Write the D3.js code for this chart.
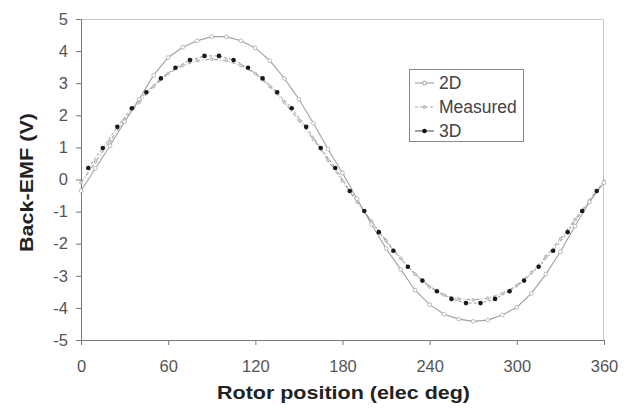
<!DOCTYPE html>
<html>
<head>
<meta charset="utf-8">
<script src="https://cdn.jsdelivr.net/npm/d3@7"></script>
<style>
  body { margin: 0; background: #fff; }
  svg { font-family: "Liberation Sans", Arial, sans-serif; }
</style>
</head>
<body>
<svg id="chart" width="625" height="411"></svg>
<script>
// data
const xTicks = [0, 60, 120, 180, 240, 300, 360];
const yTicks = [-5, -4, -3, -2, -1, 0, 1, 2, 3, 4, 5];

const pos2D = [0, 10, 20, 30, 40, 50, 60, 70, 80, 90, 100, 110, 120, 130, 140, 150, 160, 170, 180,
  190, 200, 210, 220, 230, 240, 250, 260, 270, 280, 290, 300, 310, 320, 330, 340, 350, 360];
const emf2D = [-0.35, 0.35, 1.05, 1.8, 2.5, 3.25, 3.8, 4.12, 4.32, 4.45, 4.45, 4.32, 4.1, 3.7, 3.15, 2.5, 1.75, 0.95, 0.2,
  -0.6, -1.4, -2.15, -2.8, -3.45, -3.9, -4.2, -4.35, -4.42, -4.38, -4.22, -3.98, -3.55, -2.95, -2.25, -1.45, -0.7, -0.1];

const posMeas = [0, 10, 20, 30, 40, 50, 60, 70, 80, 90, 100, 110, 120, 130, 140, 150, 160, 170, 180,
  190, 200, 210, 220, 230, 240, 250, 260, 270, 280, 290, 300, 310, 320, 330, 340, 350, 360];
const emfMeas = [-0.1, 0.55, 1.2, 1.85, 2.4, 2.9, 3.3, 3.55, 3.7, 3.75, 3.7, 3.55, 3.3, 2.9, 2.4, 1.85, 1.25, 0.6, -0.05,
  -0.7, -1.3, -1.9, -2.45, -2.95, -3.35, -3.6, -3.72, -3.75, -3.7, -3.55, -3.3, -2.9, -2.4, -1.85, -1.25, -0.65, -0.05];

const pos3D = [5, 15, 25, 35, 45, 55, 65, 75, 85, 95, 105, 115, 125, 135, 145, 155, 165, 175,
  185, 195, 205, 215, 225, 235, 245, 255, 265, 275, 285, 295, 305, 315, 325, 335, 345, 355];
const emf3D = [0.36, 0.98, 1.64, 2.22, 2.72, 3.15, 3.48, 3.72, 3.85, 3.85, 3.72, 3.48, 3.15, 2.72, 2.22, 1.64, 0.98, 0.36,
  -0.36, -0.98, -1.64, -2.22, -2.72, -3.15, -3.48, -3.72, -3.85, -3.85, -3.72, -3.48, -3.15, -2.72, -2.22, -1.64, -0.98, -0.36];

const seriesNames = ["2D", "Measured", "3D"];

// layout
const margin = {top: 19, right: 21, bottom: 71, left: 81};
const width = 625 - margin.left - margin.right;
const height = 411 - margin.top - margin.bottom;

const svg = d3.select("#chart");
const g = svg.append("g").attr("transform", "translate(" + margin.left + "," + margin.top + ")");

const x = d3.scaleLinear().domain([0, 360]).range([0, width]);
const y = d3.scaleLinear().domain([-5, 5]).range([height, 0]);

// light frame on top and right
g.append("path")
  .attr("d", "M0,0.5H" + (width - 0.5) + "V" + height)
  .attr("fill", "none").attr("stroke", "#c8c8c8").attr("stroke-width", 1);

// axes
const yAxis = g.append("g")
  .call(d3.axisLeft(y).tickValues(yTicks).tickSize(5).tickPadding(8).tickFormat(d3.format("d")));
const xAxis = g.append("g")
  .attr("transform", "translate(0," + height + ")")
  .call(d3.axisBottom(x).tickValues(xTicks).tickSize(5).tickPadding(15));

[xAxis, yAxis].forEach(function(a) {
  a.select(".domain").attr("stroke", "#777");
  a.selectAll(".tick line").attr("stroke", "#777");
  a.selectAll(".tick text").attr("fill", "#555").style("font-size", "16.5px");
});
yAxis.selectAll(".tick text").text(function(d) { return String(d); });

// series
let line = d3.line().x(function(d) { return x(d[0]); }).y(function(d) { return y(d[1]); });

let data2D = d3.zip(pos2D, emf2D);
let dataMeas = d3.zip(posMeas, emfMeas);
let data3D = d3.zip(pos3D, emf3D);

g.append("path").datum(dataMeas)
  .attr("d", line).attr("fill", "none")
  .attr("stroke", "#aaa").attr("stroke-width", 1.2).attr("stroke-dasharray", "4,2,1,2");

g.append("path").datum(data3D)
  .attr("d", line).attr("fill", "none")
  .attr("stroke", "#999").attr("stroke-width", 1).attr("stroke-dasharray", "3,2");

g.append("path").datum(data2D)
  .attr("d", line).attr("fill", "none")
  .attr("stroke", "#a0a0a0").attr("stroke-width", 1.1);

g.selectAll(".m-meas").data(dataMeas).enter().append("circle")
  .attr("class", "m-meas")
  .attr("cx", function(d) { return x(d[0]); }).attr("cy", function(d) { return y(d[1]); })
  .attr("r", 1.4).attr("fill", "#ddd").attr("stroke", "#aaa").attr("stroke-width", 0.8);

g.selectAll(".m-2d").data(data2D).enter().append("circle")
  .attr("class", "m-2d")
  .attr("cx", function(d) { return x(d[0]); }).attr("cy", function(d) { return y(d[1]); })
  .attr("r", 1.9).attr("fill", "#fff").attr("stroke", "#aaa").attr("stroke-width", 0.8);

g.selectAll(".m-3d").data(data3D).enter().append("circle")
  .attr("class", "m-3d")
  .attr("cx", function(d) { return x(d[0]); }).attr("cy", function(d) { return y(d[1]); })
  .attr("r", 2.3).attr("fill", "#1a1a1a");

// axis titles
svg.append("text")
  .attr("x", 343.5).attr("y", 399)
  .attr("text-anchor", "middle").attr("fill", "#222")
  .attr("textLength", 253).attr("lengthAdjust", "spacingAndGlyphs")
  .style("font-size", "19px").style("font-weight", "bold")
  .text("Rotor position (elec deg)");

svg.append("text")
  .attr("transform", "translate(33,182.5) rotate(-90)")
  .attr("text-anchor", "middle").attr("fill", "#222")
  .attr("textLength", 139).attr("lengthAdjust", "spacingAndGlyphs")
  .style("font-size", "19px").style("font-weight", "bold")
  .text("Back-EMF (V)");

// legend
const legend = svg.append("g").attr("transform", "translate(409,69)");
legend.append("rect").attr("x", 0.5).attr("y", 0.5).attr("width", 114).attr("height", 72)
  .attr("fill", "#fff").attr("stroke", "#888");

const legendY = [14, 38, 62];
seriesNames.forEach(function(name, i) {
  let row = legend.append("g").attr("transform", "translate(0," + legendY[i] + ")");
  let ln = row.append("line").attr("x1", 6).attr("x2", 25).attr("y1", 0).attr("y2", 0);
  if (i === 0) {
    ln.attr("stroke", "#999");
    row.append("circle").attr("cx", 15.5).attr("cy", 0).attr("r", 1.9).attr("fill", "#fff").attr("stroke", "#999");
  } else if (i === 1) {
    ln.attr("stroke", "#aaa").attr("stroke-dasharray", "3,2");
    row.append("circle").attr("cx", 15.5).attr("cy", 0).attr("r", 1.4).attr("fill", "#ddd").attr("stroke", "#aaa");
  } else {
    ln.attr("stroke", "#444");
    row.append("circle").attr("cx", 15.5).attr("cy", 0).attr("r", 2.3).attr("fill", "#111");
  }
  row.append("text").attr("x", 30).attr("y", 6)
    .attr("fill", "#444").style("font-size", "17.5px").text(name);
});
</script>
</body>
</html>
